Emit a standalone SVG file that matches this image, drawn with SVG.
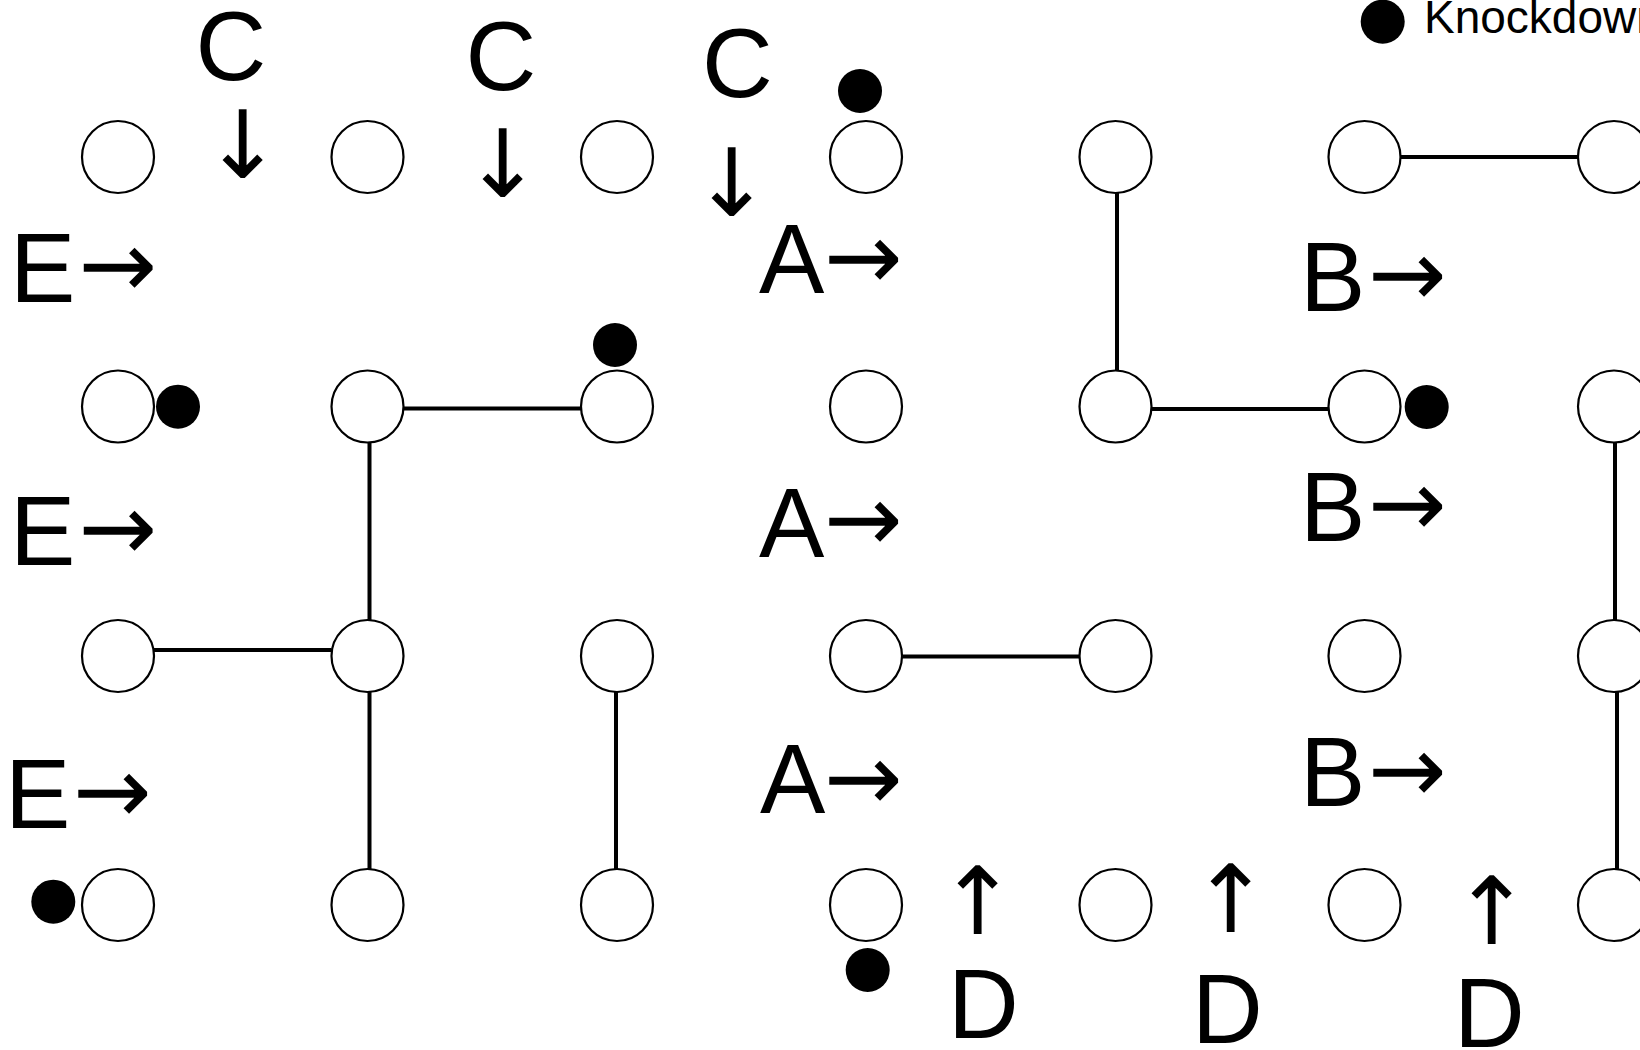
<svg xmlns="http://www.w3.org/2000/svg" width="1640" height="1050" viewBox="0 0 1640 1050">
<style>
.n{fill:#fff;stroke:#000;stroke-width:2.2}
.k{fill:#000}
.e{stroke:#000;stroke-width:4;fill:none}
.t{font-family:"Liberation Sans",Arial,sans-serif;font-size:98px;fill:#000}
.a{font-family:"DejaVu Sans",sans-serif;font-size:94px;fill:#000}
.lg{font-family:"Liberation Sans",Arial,sans-serif;font-size:46px;fill:#000}
</style>
<rect width="1640" height="1050" fill="#fff"/>
<g id="connectors">
<line class="e" x1="404" y1="408.5" x2="581" y2="408.5"/>
<line class="e" x1="369.5" y1="443" x2="369.5" y2="620"/>
<line class="e" x1="154" y1="650" x2="331" y2="650"/>
<line class="e" x1="369.5" y1="692" x2="369.5" y2="869"/>
<line class="e" x1="616" y1="692" x2="616" y2="869"/>
<line class="e" x1="902" y1="656.5" x2="1079" y2="656.5"/>
<line class="e" x1="1117" y1="193" x2="1117" y2="371"/>
<line class="e" x1="1152" y1="409" x2="1328" y2="409"/>
<line class="e" x1="1400" y1="157" x2="1578" y2="157"/>
<line class="e" x1="1615" y1="443" x2="1615" y2="620"/>
<line class="e" x1="1617" y1="692" x2="1617" y2="869"/>
</g>
<g id="node-r1c1"><circle class="n" cx="118" cy="157" r="36"/></g>
<g id="node-r1c2"><circle class="n" cx="367.5" cy="157" r="36"/></g>
<g id="node-r1c3"><circle class="n" cx="617" cy="157" r="36"/></g>
<g id="node-r1c4"><circle class="n" cx="866" cy="157" r="36"/></g>
<g id="node-r1c5"><circle class="n" cx="1115.5" cy="157" r="36"/></g>
<g id="node-r1c6"><circle class="n" cx="1364.5" cy="157" r="36"/></g>
<g id="node-r1c7"><circle class="n" cx="1614" cy="157" r="36"/></g>
<g id="node-r2c1"><circle class="n" cx="118" cy="406.5" r="36"/></g>
<g id="node-r2c2"><circle class="n" cx="367.5" cy="406.5" r="36"/></g>
<g id="node-r2c3"><circle class="n" cx="617" cy="406.5" r="36"/></g>
<g id="node-r2c4"><circle class="n" cx="866" cy="406.5" r="36"/></g>
<g id="node-r2c5"><circle class="n" cx="1115.5" cy="406.5" r="36"/></g>
<g id="node-r2c6"><circle class="n" cx="1364.5" cy="406.5" r="36"/></g>
<g id="node-r2c7"><circle class="n" cx="1614" cy="406.5" r="36"/></g>
<g id="node-r3c1"><circle class="n" cx="118" cy="656" r="36"/></g>
<g id="node-r3c2"><circle class="n" cx="367.5" cy="656" r="36"/></g>
<g id="node-r3c3"><circle class="n" cx="617" cy="656" r="36"/></g>
<g id="node-r3c4"><circle class="n" cx="866" cy="656" r="36"/></g>
<g id="node-r3c5"><circle class="n" cx="1115.5" cy="656" r="36"/></g>
<g id="node-r3c6"><circle class="n" cx="1364.5" cy="656" r="36"/></g>
<g id="node-r3c7"><circle class="n" cx="1614" cy="656" r="36"/></g>
<g id="node-r4c1"><circle class="n" cx="118" cy="905" r="36"/></g>
<g id="node-r4c2"><circle class="n" cx="367.5" cy="905" r="36"/></g>
<g id="node-r4c3"><circle class="n" cx="617" cy="905" r="36"/></g>
<g id="node-r4c4"><circle class="n" cx="866" cy="905" r="36"/></g>
<g id="node-r4c5"><circle class="n" cx="1115.5" cy="905" r="36"/></g>
<g id="node-r4c6"><circle class="n" cx="1364.5" cy="905" r="36"/></g>
<g id="node-r4c7"><circle class="n" cx="1614" cy="905" r="36"/></g>
<g id="knockdowns">
<circle class="k" cx="860" cy="91" r="22"/>
<circle class="k" cx="178" cy="406.7" r="22"/>
<circle class="k" cx="615" cy="345" r="22"/>
<circle class="k" cx="1426.7" cy="407" r="22"/>
<circle class="k" cx="53.3" cy="901.7" r="22"/>
<circle class="k" cx="867.7" cy="970" r="22"/>
</g>
<g id="legend">
<circle class="k" cx="1382.7" cy="21.7" r="22"/>
<text class="lg" x="1424" y="33">Knockdown</text>
</g>
<g id="labels">
<text class="t" x="231" y="80" text-anchor="middle">C</text>
<text class="t" x="501" y="90" text-anchor="middle">C</text>
<text class="t" x="737.5" y="97" text-anchor="middle">C</text>
<text class="a" x="243" y="178" text-anchor="middle">↓</text>
<text class="a" x="503" y="197" text-anchor="middle">↓</text>
<text class="a" x="732" y="216" text-anchor="middle">↓</text>
<text class="t" x="10" y="302">E<tspan class="a" x="78.5" y="296.7">→</tspan></text>
<text class="t" x="10" y="565">E<tspan class="a" x="78.5" y="559.7">→</tspan></text>
<text class="t" x="5" y="828">E<tspan class="a" x="73" y="822.7">→</tspan></text>
<text class="t" x="759" y="293">A<tspan class="a" x="824" y="288.7">→</tspan></text>
<text class="t" x="759" y="557">A<tspan class="a" x="824" y="550.7">→</tspan></text>
<text class="t" x="760" y="813">A<tspan class="a" x="824" y="809.7">→</tspan></text>
<text class="t" x="1300" y="311">B<tspan class="a" x="1368" y="305.7">→</tspan></text>
<text class="t" x="1300" y="541">B<tspan class="a" x="1368" y="535.7">→</tspan></text>
<text class="t" x="1300" y="806">B<tspan class="a" x="1368" y="801.7">→</tspan></text>
<text class="a" x="978" y="934" text-anchor="middle">↑</text>
<text class="a" x="1231" y="932" text-anchor="middle">↑</text>
<text class="a" x="1492" y="944" text-anchor="middle">↑</text>
<text class="t" x="948" y="1038">D</text>
<text class="t" x="1192" y="1043">D</text>
<text class="t" x="1454" y="1047">D</text>
</g>
</svg>
